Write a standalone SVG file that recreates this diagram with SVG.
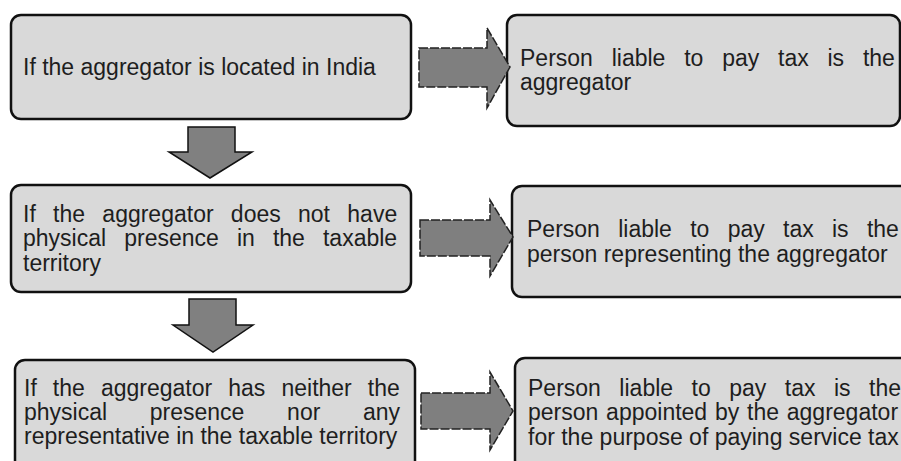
<svg xmlns="http://www.w3.org/2000/svg" width="901" height="461" viewBox="0 0 901 461">
<style>
.box{fill:#d9d9d9;stroke:#111;stroke-width:2.5}
.t{font-family:"Liberation Sans",Arial,sans-serif;font-size:23px;fill:#1e1e1e}
.ra{fill:#7f7f7f;stroke:#222;stroke-width:1.5;stroke-dasharray:9 2}
.da{fill:#808080;stroke:#111;stroke-width:1.5}
</style>
<rect width="901" height="461" fill="#ffffff"/>
<g id="node-l1">
<rect class="box" x="11" y="15" width="400" height="104" rx="10"/>
<text class="t" x="23" y="75">If the aggregator is located in India</text>
</g>
<g id="node-r1">
<rect class="box" x="507" y="15" width="393" height="111" rx="10"/>
<text class="t" x="520" y="66" word-spacing="12.4">Person liable to pay tax is the</text>
<text class="t" x="520" y="90">aggregator</text>
</g>
<g id="node-l2">
<rect class="box" x="11" y="185" width="400" height="107" rx="10"/>
<text class="t" x="23" y="222" word-spacing="10.9">If the aggregator does not have</text>
<text class="t" x="23" y="246" word-spacing="11.7">physical presence in the taxable</text>
<text class="t" x="23" y="271">territory</text>
</g>
<g id="node-r2">
<rect class="box" x="512" y="186" width="400" height="111" rx="10"/>
<text class="t" x="527" y="237" word-spacing="11.9">Person liable to pay tax is the</text>
<text class="t" x="527" y="262">person representing the aggregator</text>
</g>
<g id="node-l3">
<rect class="box" x="15" y="360" width="400" height="112" rx="10"/>
<text class="t" x="24" y="396" word-spacing="9.7">If the aggregator has neither the</text>
<text class="t" x="24" y="420" word-spacing="36.3">physical presence nor any</text>
<text class="t" x="24" y="444">representative in the taxable territory</text>
</g>
<g id="node-r3">
<rect class="box" x="515" y="358" width="400" height="112" rx="10"/>
<text class="t" x="528" y="396" word-spacing="12.1">Person liable to pay tax is the</text>
<text class="t" x="528" y="420" word-spacing="1.4">person appointed by the aggregator</text>
<text class="t" x="528" y="445">for the purpose of paying service tax</text>
</g>
<g id="connectors">
<path class="ra" d="M419,48 L487,48 L487,28 L510,67 L487,108 L487,87 L419,87 Z"/>
<path class="ra" d="M420,220 L490,220 L490,200 L513,237 L490,276 L490,256 L420,256 Z"/>
<path class="ra" d="M421,393 L490,393 L490,372 L513,411 L490,450 L490,429 L421,429 Z"/>
<path class="da" d="M188,127 L235,127 L235,152 L252,152 L210,178 L169,152 L188,152 Z"/>
<path class="da" d="M189,299 L236,299 L236,325 L253,325 L213,352 L173,325 L189,325 Z"/>
</g>
</svg>
